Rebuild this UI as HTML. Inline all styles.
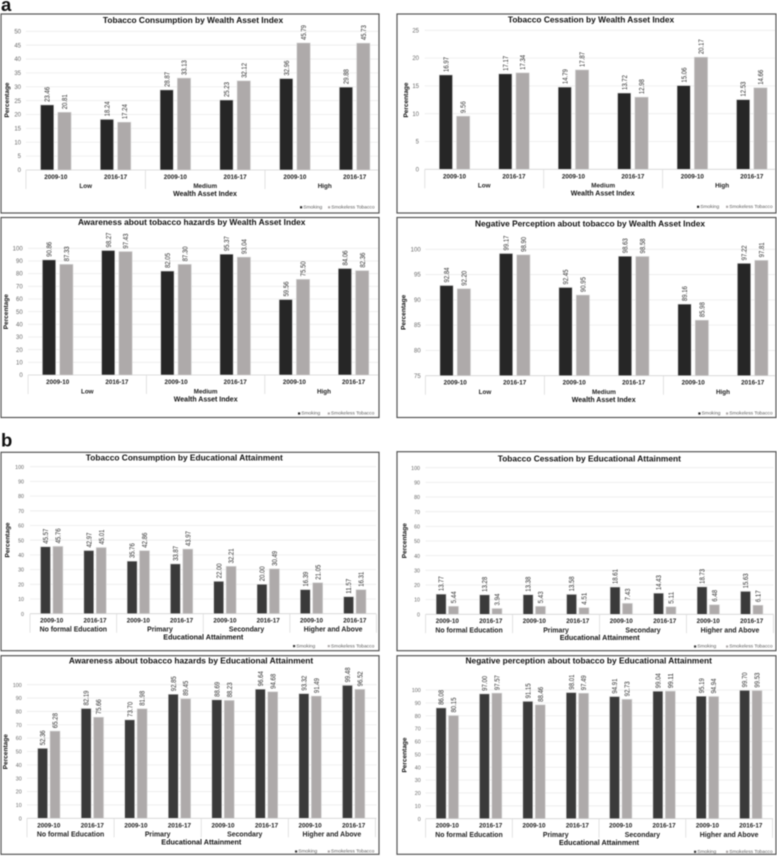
<!DOCTYPE html>
<html lang="en">
<head>
<meta charset="utf-8">
<title>Tobacco use by wealth and education</title>
<style>
html,body{margin:0;padding:0;background:#fff;}
body{width:777px;height:856px;overflow:hidden;position:relative;}
svg{position:absolute;left:0;top:0;display:block;filter:blur(0.5px);font-family:"Liberation Sans",sans-serif;}
</style>
</head>
<body>
<svg id="fig" width="777" height="856" viewBox="0 0 777 856" xmlns="http://www.w3.org/2000/svg">
<rect width="777" height="856" fill="#fff"/>
<text x="1" y="11" font-size="18.5" font-weight="700" fill="#111">a</text>
<text x="1" y="446.5" font-size="18.5" font-weight="700" fill="#111">b</text>
</svg>
<script>
/* ---------- chart data ---------- */
const periods = ["2009-10", "2016-17"];
const wealthGroups = ["Low", "Medium", "High"];
const educationGroups = ["No formal Education", "Primary", "Secondary", "Higher and Above"];
const seriesNames = ["Smoking", "Smokeless Tobacco"];

const ticks0to50 = [0, 5, 10, 15, 20, 25, 30, 35, 40, 45, 50];
const ticks0to25 = [0, 5, 10, 15, 20, 25];
const ticks0to100 = [0, 10, 20, 30, 40, 50, 60, 70, 80, 90, 100];
const ticks75to100 = [75, 80, 85, 90, 95, 100];

const wealthConsumptionSmoking = [23.46, 18.24, 28.87, 25.23, 32.96, 29.88];
const wealthConsumptionSmokeless = [20.81, 17.24, 33.13, 32.12, 45.79, 45.73];
const wealthCessationSmoking = [16.97, 17.17, 14.79, 13.72, 15.06, 12.53];
const wealthCessationSmokeless = [9.56, 17.34, 17.87, 12.98, 20.17, 14.66];
const wealthAwarenessSmoking = [90.86, 98.27, 82.05, 95.37, 59.56, 84.06];
const wealthAwarenessSmokeless = [87.33, 97.43, 87.30, 93.04, 75.50, 82.36];
const wealthNegativeSmoking = [92.84, 99.17, 92.45, 98.63, 89.16, 97.22];
const wealthNegativeSmokeless = [92.20, 98.90, 90.95, 98.58, 85.98, 97.81];

const eduConsumptionSmoking = [45.57, 42.97, 35.76, 33.87, 22.00, 20.00, 16.39, 11.57];
const eduConsumptionSmokeless = [45.76, 45.01, 42.86, 43.97, 32.21, 30.49, 21.05, 16.31];
const eduCessationSmoking = [13.77, 13.28, 13.38, 13.58, 18.61, 14.43, 18.73, 15.63];
const eduCessationSmokeless = [5.44, 3.94, 5.43, 4.51, 7.43, 5.11, 6.48, 6.17];
const eduAwarenessSmoking = [52.36, 82.19, 73.70, 92.85, 88.69, 96.64, 93.32, 99.48];
const eduAwarenessSmokeless = [65.28, 75.66, 81.98, 89.45, 88.23, 94.68, 91.49, 96.52];
const eduNegativeSmoking = [86.08, 97.00, 91.15, 98.01, 94.91, 99.04, 95.19, 99.70];
const eduNegativeSmokeless = [80.15, 97.57, 88.46, 97.49, 92.73, 99.11, 94.94, 99.53];

/* ---------- panel definitions (layout lives here, values come from the arrays above) ---------- */
const panels = [
  {id:"wealth-consumption", title:"Tobacco Consumption by Wealth Asset Index", axisTitle:"Wealth Asset Index",
   groups:wealthGroups, ticks:ticks0to50, a:wealthConsumptionSmoking, b:wealthConsumptionSmokeless,
   frame:[1,14,378,199], base:170, top:31.3, first:55.8, step:59.77, gridEnd:378, tickRight:21, titleY:23, titleX:193,
   yTitleX:9, yTitleY:100, catY:179, groupY:188, axisY:196, axisX:205, legY:208.5, leg1:300, leg2:328, dark:"#262626", edu:false},
  {id:"wealth-cessation", title:"Tobacco Cessation by Wealth Asset Index", axisTitle:"Wealth Asset Index",
   groups:wealthGroups, ticks:ticks0to25, a:wealthCessationSmoking, b:wealthCessationSmokeless,
   frame:[397,14,379,199], base:169.3, top:30.3, first:454.5, step:59.46, gridEnd:775, tickRight:419, titleY:22.5, titleX:591,
   yTitleX:408, yTitleY:100, catY:178.5, groupY:187.5, axisY:195.5, axisX:602.7, legY:208, leg1:697, leg2:726, dark:"#262626", edu:false},
  {id:"wealth-awareness", title:"Awareness about tobacco hazards by Wealth Asset Index", axisTitle:"Wealth Asset Index",
   groups:wealthGroups, ticks:ticks0to100, a:wealthAwarenessSmoking, b:wealthAwarenessSmokeless,
   frame:[1,217.5,378,200], base:375, top:248.3, first:57.7, step:59.17, gridEnd:378, tickRight:22.7, titleY:225, titleX:191.7,
   yTitleX:8, yTitleY:311.7, catY:384, groupY:393.5, axisY:401.5, axisX:205.7, legY:414.7, leg1:298, leg2:327.7, dark:"#262626", edu:false},
  {id:"wealth-negative", title:"Negative Perception about tobacco by Wealth Asset Index", axisTitle:"Wealth Asset Index",
   groups:wealthGroups, ticks:ticks75to100, a:wealthNegativeSmoking, b:wealthNegativeSmokeless,
   frame:[397,217.5,379,200], base:375.7, top:249.3, first:455.2, step:59.5, gridEnd:775, tickRight:420.7, titleY:226.5, titleX:590,
   yTitleX:405.5, yTitleY:312.3, catY:384.3, groupY:394, axisY:402, axisX:603.7, legY:414.7, leg1:698.3, leg2:726, dark:"#262626", edu:false},
  {id:"education-consumption", title:"Tobacco Consumption by Educational Attainment", axisTitle:"Educational Attainment",
   groups:educationGroups, ticks:ticks0to100, a:eduConsumptionSmoking, b:eduConsumptionSmokeless,
   frame:[1,452.3,378,198.4], base:613.7, top:466.7, first:51.7, step:43.3, gridEnd:376, tickRight:24, titleY:460.3, titleX:184.3,
   yTitleX:9.5, yTitleY:540, catY:622.3, groupY:631.5, axisY:639.5, axisX:203.3, legY:647.3, leg1:293, leg2:327.7, dark:"#3a3a3a", edu:true},
  {id:"education-cessation", title:"Tobacco Cessation by Educational Attainment", axisTitle:"Educational Attainment",
   groups:educationGroups, ticks:ticks0to100, a:eduCessationSmoking, b:eduCessationSmokeless,
   frame:[397,451.7,379,199], base:614.3, top:467.7, first:447.3, step:43.49, gridEnd:773.5, tickRight:420, titleY:461.3, titleX:589.3,
   yTitleX:406.5, yTitleY:540.7, catY:623, groupY:632.3, axisY:640, axisX:599.7, legY:647.7, leg1:694, leg2:726, dark:"#3a3a3a", edu:true},
  {id:"education-awareness", title:"Awareness about tobacco hazards by Educational Attainment", axisTitle:"Educational Attainment",
   groups:educationGroups, ticks:ticks0to100, a:eduAwarenessSmoking, b:eduAwarenessSmokeless,
   frame:[1,655.7,378,198.6], base:818.3, top:684.7, first:48.8, step:43.55, gridEnd:376.5, tickRight:21.7, titleY:663.7, titleX:191,
   yTitleX:7.5, yTitleY:751.7, catY:827.3, groupY:836.5, axisY:844.7, axisX:201.3, legY:852.7, leg1:295, leg2:327.7, dark:"#3a3a3a", edu:true},
  {id:"education-negative", title:"Negative perception about tobacco by Educational Attainment", axisTitle:"Educational Attainment",
   groups:educationGroups, ticks:ticks0to100, a:eduNegativeSmoking, b:eduNegativeSmokeless,
   frame:[397,655.7,379,198.6], base:818.7, top:690, first:447.3, step:43.36, gridEnd:773, tickRight:420.7, titleY:663.7, titleX:588.7,
   yTitleX:406.5, yTitleY:755, catY:827.6, groupY:837, axisY:845, axisX:599, legY:853, leg1:694, leg2:726, dark:"#3a3a3a", edu:true}
];

const LIGHT = "#aeaaaa";
const NS = "http://www.w3.org/2000/svg";
const fig = document.getElementById("fig");

function make(tag, attrs, parent, txt) {
  const el = document.createElementNS(NS, tag);
  for (const k in attrs) el.setAttribute(k, attrs[k]);
  if (txt !== undefined) el.textContent = txt;
  parent.appendChild(el);
  return el;
}

panels.forEach(function (p) {
  const g = make("g", {}, fig);
  
  

  const tMin = p.ticks[0];
  const tMax = p.ticks[p.ticks.length - 1];
  const yScale = function (v) { return p.base - (v - tMin) / (tMax - tMin) * (p.base - p.top); };
  const xScale = function (i) { return p.first + p.step * i; };
  const gridStart = xScale(0) - p.step / 2;

  const frame = make("rect", {x:p.frame[0], y:p.frame[1], width:p.frame[2], height:p.frame[3], fill:"#fff", stroke:"#555", "stroke-width":1.2}, g);
  
  

  const title = make("text", {x:p.titleX, y:p.titleY, "text-anchor":"middle", "font-size":8.35, "font-weight":700, fill:"#111"}, g, p.title);
  
  

  p.ticks.forEach(function (t) {
    const y = yScale(t);
    const line = make("line", {x1:gridStart, x2:p.gridEnd, y1:y, y2:y, stroke:t === tMin ? "#d4d4d4" : "#ebebeb", "stroke-width":0.8}, g);
    
    
    const lab = make("text", {x:p.tickRight, y:y + 2.1, "text-anchor":"end", "font-size":p.edu ? 5.3 : 6, fill:"#6a6a6a"}, g, t);
    
    
  });

  const yTitle = make("text", {x:p.yTitleX, y:p.yTitleY, "text-anchor":"middle", "font-size":6.5, "font-weight":700, fill:"#111", transform:"rotate(-90 " + p.yTitleX + " " + p.yTitleY + ")"}, g, "Percentage");
  
  

  p.a.forEach(function (v, i) {
    const c = xScale(i);
    const w = p.edu ? 10 : 13.3;
    const gap = p.edu ? 2.4 : 4;
    [[v, c - gap / 2 - w, p.dark, "bar-smoking"], [p.b[i], c + gap / 2, LIGHT, "bar-smokeless"]].forEach(function (s) {
      const top = yScale(s[0]);
      const bar = make("rect", {x:s[1], y:top, width:w, height:p.base - top, fill:s[2], stroke:"#d6d6d6", "stroke-width":0.6}, g);
      
      
      const label = s[0].toFixed(2);
      const lx = s[1] + w / 2 + 2.6;
      const ly = top - 3;
      const lab = make("text", {x:lx, y:ly, "font-size":7.4, fill:"#333", textLength:label.length * 3, lengthAdjust:"spacingAndGlyphs", transform:"rotate(-90 " + lx + " " + ly + ")"}, g, label);
      
      
    });
    const cat = make("text", {x:c, y:p.catY, "text-anchor":"middle", "font-size":6.3, "font-weight":700, fill:"#222"}, g, periods[i % 2]);
    
    
  });

  p.groups.forEach(function (name, i) {
    const cx = xScale(2 * i) + p.step / 2;
    const lab = make("text", {x:cx, y:p.groupY, "text-anchor":"middle", "font-size":p.edu ? 6.9 : 6.3, "font-weight":700, fill:"#222"}, g, name);
    
    
  });

  for (let i = 0; i <= p.groups.length; i++) {
    const sx = gridStart + 2 * p.step * i;
    if (sx <= p.gridEnd + 1) {
      const sep = make("line", {x1:sx, x2:sx, y1:p.base, y2:p.base + 19, stroke:"#dcdcdc", "stroke-width":0.8}, g);
      
      
    }
  }

  const xTitle = make("text", {x:p.axisX, y:p.axisY, "text-anchor":"middle", "font-size":p.edu ? 7.2 : 7, "font-weight":700, fill:"#111"}, g, p.axisTitle);
  
  

  [[p.leg1, p.dark], [p.leg2, LIGHT]].forEach(function (l, i) {
    const mark = make("rect", {x:l[0], y:p.legY - 2.3, width:2.2, height:2.2, fill:l[1]}, g);
    
    
    const txt = make("text", {x:l[0] + 3.2, y:p.legY, "font-size":4.9, fill:"#5a5a5a"}, g, seriesNames[i]);
    
    
  });
});
</script>
</body>
</html>
